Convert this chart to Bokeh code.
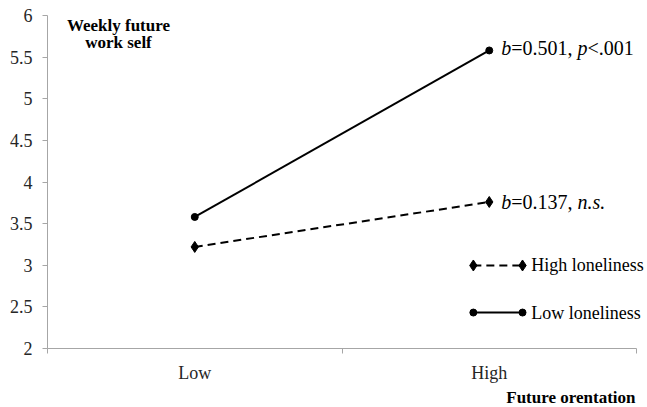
from bokeh.plotting import figure
from bokeh.models import FixedTicker, Label, Title
from bokeh.core.properties import value
from bokeh.embed import file_html
from bokeh.resources import INLINE

# ---- data ----
categories = ["Low", "High"]
high_loneliness = [3.22, 3.76]
low_loneliness = [3.58, 5.58]
y_ticks = [2, 2.5, 3, 3.5, 4, 4.5, 5, 5.5, 6]
y_tick_labels = ["2", "2.5", "3", "3.5", "4", "4.5", "5", "5.5", "6"]
series_names = ["High loneliness", "Low  loneliness"]
# annotation segments: (text, italic?)
note_low = [("b", True), ("=0.501, ", False), ("p", True), ("<.001", False)]
note_high = [("b", True), ("=0.137, ", False), ("n.s.", True)]

FONT = "Liberation Serif"
AX = "#a6a6a6"
TXT = "#262626"

xs = [i + 0.5 for i in range(len(categories))]
n = len(categories)

# frame extends a little past the last category boundary so right-side text fits
p = figure(frame_width=600, frame_height=333, x_range=(0, n * 600 / 589), y_range=(2, 6),
           output_backend="svg", toolbar_location=None,
           min_border_left=47, min_border_right=0, min_border_top=15, min_border_bottom=40)
p.outline_line_color = None
p.xgrid.visible = False
p.ygrid.visible = False
p.background_fill_color = "white"
p.border_fill_color = "white"

# y axis
ya = p.yaxis[0]
ya.ticker = FixedTicker(ticks=y_ticks, minor_ticks=[])
ya.major_label_overrides = {t: l for t, l in zip(y_ticks, y_tick_labels)}
ya.axis_line_color = AX
ya.major_tick_line_color = AX
ya.major_tick_in = 0
ya.major_tick_out = 5
ya.minor_tick_line_color = None
ya.major_label_text_font = FONT
ya.major_label_text_font_size = "18px"
ya.major_label_text_color = TXT
ya.major_label_standoff = 10

# x axis
xa = p.xaxis[0]
xa.bounds = (0, n)
xa.ticker = FixedTicker(ticks=xs, minor_ticks=list(range(n + 1)))
xa.major_label_overrides = {x: c for x, c in zip(xs, categories)}
xa.axis_line_color = AX
xa.major_tick_line_color = None
xa.major_tick_in = 0
xa.major_tick_out = 0
xa.minor_tick_line_color = AX
xa.minor_tick_in = 0
xa.minor_tick_out = 5
xa.major_label_text_font = FONT
xa.major_label_text_font_size = "18px"
xa.major_label_text_color = TXT
xa.major_label_standoff = 9

LW = 2
# series
p.line(xs, low_loneliness, line_color="black", line_width=LW)
p.scatter(xs, low_loneliness, marker="circle", size=7, color="black")
p.line(xs, high_loneliness, line_color="black", line_width=LW, line_dash="8 5")
p.scatter(xs, high_loneliness, marker="diamond", size=11, color="black")

# annotations with mixed italics
W = {'=': 0.564, '0': 0.5, '.': 0.25, '5': 0.5, '1': 0.5, ',': 0.25, ' ': 0.25,
     '<': 0.564, '3': 0.5, '7': 0.5, 'b': 0.5, 'p': 0.5, 'n': 0.5, 's': 0.389}
NS = 20

def seg_text(x, y, segs, yoff):
    off = 12
    for t, it in segs:
        p.text(x=[x], y=[y], text=[t], x_offset=off, y_offset=yoff,
               text_font=value(FONT), text_font_size=f"{NS}px",
               text_font_style="italic" if it else "normal",
               text_baseline="middle", text_align="left", text_color="black")
        off += sum(W.get(c, 0.5) for c in t) * NS

seg_text(xs[1], low_loneliness[1], note_low, -2)
seg_text(xs[1], high_loneliness[1], note_high, 0)

# legend (drawn manually: markers at both ends of the sample line)
LEG_X0, LEG_X1, LEG_TX = 1.446, 1.613, 1.643
LEG_Y = [2.997, 2.432]
p.line([LEG_X0, LEG_X1], [LEG_Y[0]] * 2, line_color="black", line_width=LW, line_dash="8 5")
p.scatter([LEG_X0, LEG_X1], [LEG_Y[0]] * 2, marker="diamond", size=11, color="black")
p.line([LEG_X0, LEG_X1], [LEG_Y[1]] * 2, line_color="black", line_width=LW)
p.scatter([LEG_X0, LEG_X1], [LEG_Y[1]] * 2, marker="circle", size=7, color="black")
for yy, name in zip(LEG_Y, series_names):
    p.add_layout(Label(x=LEG_TX, y=yy, text=name, text_font=FONT, text_font_size="18px",
                       text_baseline="middle", text_align="left", text_color="black"))

# axis titles
for i, t in enumerate(["Weekly future", "work self"]):
    p.add_layout(Label(x=0.241, y=6, y_offset=-10 - 17 * i, text=t, text_font=FONT,
                       text_font_size="17px", text_font_style="bold",
                       text_baseline="middle", text_align="center", text_color="black"))
p.add_layout(Title(text="Future orentation", align="right", offset=12, standoff=0,
                   text_font=FONT, text_font_size="17px", text_font_style="bold",
                   text_color="black"), "below")

open("out.html", "w").write(file_html(p, INLINE))
